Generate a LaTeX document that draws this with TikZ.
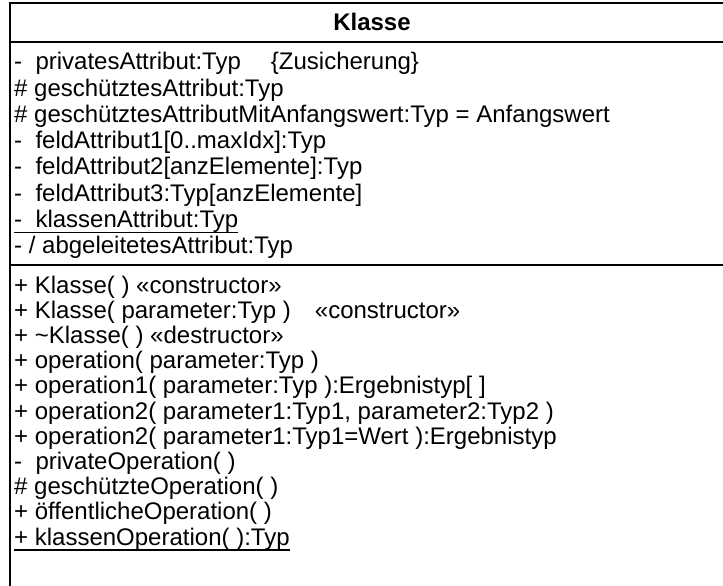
\documentclass[tikz,border=0pt]{standalone}
\usepackage{fontspec}
\setmainfont{Liberation Sans}

\begin{document}
\begin{tikzpicture}[x=1pt,y=-1pt,
    member/.style={anchor=base west,inner sep=0pt,font=\fontsize{24}{26}\selectfont},
    classname/.style={anchor=base,inner sep=0pt,font=\fontsize{24}{26}\selectfont\bfseries},
    umlline/.style={line width=1.8pt},
    static/.style={line width=1.1pt}]
  \clip (0,0) rectangle (723,586);
  % class frame, cut off at the right and at the bottom
  \draw[umlline] (10,590) -- (10,3) -- (740,3);
  \draw[umlline] (10,42) -- (740,42);
  \draw[umlline] (10,265) -- (740,265);
  \node[classname] (klasse) at (372,30.5) {Klasse};
  % attributes
  \draw
    (14,70.0) node[member] (a0) {-\ \ privatesAttribut:Typ\hspace{30pt}\{Zusicherung\}}
    (14,96.2) node[member] (a1) {\# geschütztesAttribut:Typ}
    (14,122.4) node[member] (a2) {\# geschütztesAttributMitAnfangswert:Typ = Anfangswert}
    (14,148.6) node[member] (a3) {-\ \ feldAttribut1[0..maxIdx]:Typ}
    (14,174.8) node[member] (a4) {-\ \ feldAttribut2[anzElemente]:Typ}
    (14,201.0) node[member] (a5) {-\ \ feldAttribut3:Typ[anzElemente]}
    (14,227.2) node[member] (a6) {-\ \ klassenAttribut:Typ}
    (14,253.4) node[member] (a7) {- / abgeleitetesAttribut:Typ};
  % operations
  \draw
    (14,293.0) node[member] (o0) {+ Klasse( ) «constructor»}
    (14,318.2) node[member] (o1) {+ Klasse( parameter:Typ )\hspace{24pt}«constructor»}
    (14,343.4) node[member] (o2) {+ \textasciitilde Klasse( ) «destructor»}
    (14,368.6) node[member] (o3) {+ operation( parameter:Typ )}
    (14,393.8) node[member] (o4) {+ operation1( parameter:Typ ):Ergebnistyp[ ]}
    (14,419.0) node[member] (o5) {+ operation2( parameter1:Typ1, parameter2:Typ2 )}
    (14,444.2) node[member] (o6) {+ operation2( parameter1:Typ1=Wert ):Ergebnistyp}
    (14,469.4) node[member] (o7) {-\ \ privateOperation( )}
    (14,494.6) node[member] (o8) {\# geschützteOperation( )}
    (14,519.8) node[member] (o9) {+ öffentlicheOperation( )}
    (14,545.0) node[member] (o10) {+ klassenOperation( ):Typ};
  % class scope members are underlined
  \draw[static] ([yshift=-5pt]a6.base west) -- ([yshift=-5pt]a6.base east);
  \draw[static] ([yshift=-5pt]o10.base west) -- ([yshift=-5pt]o10.base east);
\end{tikzpicture}
\end{document}
